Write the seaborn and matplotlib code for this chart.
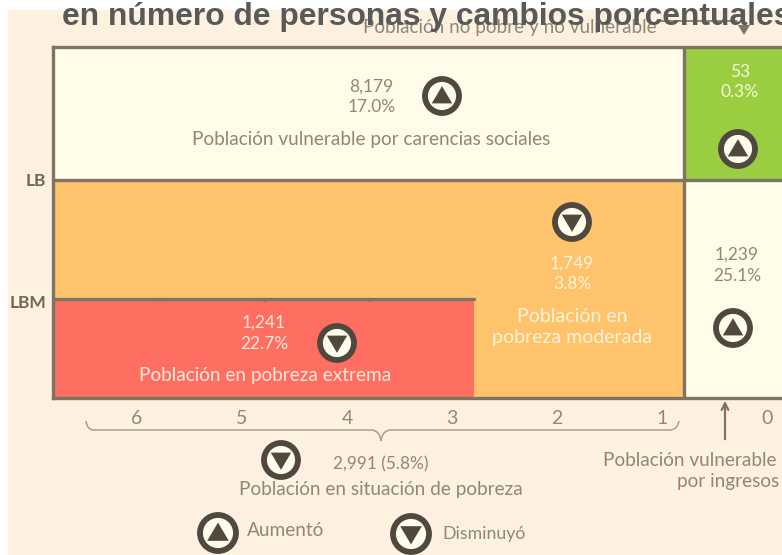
import matplotlib
matplotlib.use("Agg")
import matplotlib.pyplot as plt
from matplotlib.patches import Ellipse, Polygon, PathPatch
from matplotlib.path import Path
from matplotlib.transforms import IdentityTransform
import seaborn as sns

W, H = 782, 555
BG = "#FEF1E0"; CREAM = "#FFFDE9"; EDGE = "#7D7464"; DARK = "#4E483F"; TXT = "#8F8878"
ORANGE = "#FEC36B"; RED = "#FF6F61"; GREEN = "#9ACD3F"

# regions: carencias from/to and income levels from/to
region_names = ["vuln_car", "no_pobre", "moderada", "extrema", "vuln_ing"]
region_c_left = [6.8, 0.79, 6.8, 6.8, 0.79]
region_c_right = [0.79, -0.143, 0.79, 2.79, -0.143]
region_y_low = [218, 218, 0, 0, 0]
region_y_high = [351, 351, 218, 99, 218]
region_colors = [CREAM, GREEN, ORANGE, RED, CREAM]
carencias = [6, 5, 4, 3, 2, 1, 0]
lb_levels = [96, 218]
lb_labels = ["LBM", "LB"]
lbm_marks = [5.78, 4.78, 3.78]

sns.set_theme(style="white", font="Lato")
plt.rcParams["font.family"] = ["Lato", "DejaVu Sans"]
fig = plt.figure(figsize=(W / 100, H / 100), dpi=100, facecolor="white")
fig.add_artist(plt.Rectangle((8 / W, 0), 1, 1 - 10 / H, transform=fig.transFigure, color=BG, zorder=-5))
ax = fig.add_axes([53 / W, 1 - 398 / H, (W - 53) / W, 351 / H])
ax.patch.set_alpha(0)

for l, r, lo, hi, c in zip(region_c_left, region_c_right, region_y_low, region_y_high, region_colors):
    ax.bar((l + r) / 2, hi - lo, width=l - r, bottom=lo, color=c, edgecolor="none", zorder=1)
LW = 2.4
sns.lineplot(x=[6.8, -0.143], y=[218, 218], color=EDGE, lw=LW, ax=ax, zorder=3)
sns.lineplot(x=[6.8, 2.79], y=[99, 99], color=EDGE, lw=LW, ax=ax, zorder=3)
ax.plot([0.79, 0.79], [0, 351], color=EDGE, lw=LW, zorder=3)
ax.vlines(lbm_marks, 96, 99, color=EDGE, lw=1.5, zorder=3)
ax.set_xlim(6.8, -0.143); ax.set_ylim(0, 351)
ax.set_xticks(carencias); ax.set_xticklabels(carencias, fontsize=14, color=TXT)
ax.set_yticks(lb_levels); ax.set_yticklabels(lb_labels, fontsize=12.5, fontweight="bold", color="#6E675A")
ax.tick_params(axis="x", length=0, pad=9)
ax.tick_params(axis="y", length=0, pad=5)
for s in ["left", "bottom", "top"]:
    ax.spines[s].set_color(EDGE); ax.spines[s].set_linewidth(LW)
ax.spines["right"].set_visible(False)

def T(x, y, s, size=12.5, color=TXT, ha="center", **k):
    k.setdefault("fontweight", "normal")
    fig.text(x / W, 1 - y / H, s, fontsize=size, color=color, ha=ha, va="center", **k)

def icon(x, y, rx, ry, up=True):
    tr = IdentityTransform()
    Y = H - y
    fig.add_artist(Ellipse((x, Y), 2 * rx, 2 * ry, fc=CREAM, ec=DARK, lw=4.2, transform=tr, zorder=6))
    a, b = rx * 0.6, ry * 0.58
    d = 1 if up else -1
    fig.add_artist(Polygon([(x - a, Y - d * b * 0.75), (x + a, Y - d * b * 0.75), (x, Y + d * b)],
                           fc=DARK, ec="none", transform=tr, zorder=7))

# title & top label
T(510, 27, "Población no pobre y no vulnerable", size=13.6, zorder=5)
tr = IdentityTransform()
fig.add_artist(plt.Line2D([660, 737], [H - 21, H - 21], color=EDGE, lw=1.2, transform=tr, zorder=7))
fig.add_artist(plt.Line2D([744, 744], [H - 10, H - 28], color=EDGE, lw=1.5, transform=tr, zorder=7))
fig.add_artist(Polygon([(738, H - 25), (750, H - 25), (744, H - 35)], fc=EDGE, ec="none", transform=tr, zorder=7))
T(62, 17, "en número de personas y cambios porcentuales", size=22.9, color="#58595B", ha="left",
  family=["Liberation Sans"], fontweight="bold", zorder=8)

# cell labels
BODY = 13.7
T(371, 87, "8,179"); T(372, 107, "17.0%")
T(371, 139, "Población vulnerable por carencias sociales", size=BODY)
T(740, 72, "53", color="#F4F7DE"); T(740, 92, "0.3%", color="#F4F7DE")
T(737, 255, "1,239"); T(737, 276, "25.1%")
T(572, 264, "1,749", color="#FFF3DC"); T(572, 284, "3.8%", color="#FFF3DC")
T(572, 316, "Población en", size=14, color="#FFF3DC"); T(572, 337, "pobreza moderada", size=14, color="#FFF3DC")
T(264, 323, "1,241", color="#FFE9DC"); T(264, 344, "22.7%", color="#FFE9DC")
T(265, 375, "Población en pobreza extrema", size=BODY, color="#FFE9DC")

# icons
icon(442, 96, 17, 17, True); icon(738, 149, 17, 17, True)
icon(733, 328, 17, 17, True); icon(572, 222, 17, 17, False)
icon(337, 343, 17, 17, False); icon(281, 460, 17, 17, False)
icon(218, 533, 18, 18, True); icon(411, 534, 18, 18, False)

# brace
pts = [(86, 421), (87, 430), (94, 430), (372, 430), (380, 431), (381, 441), (382, 431), (390, 430),
       (670, 430), (677, 430), (679, 421)]
codes = [Path.MOVETO, Path.CURVE3, Path.CURVE3, Path.LINETO, Path.CURVE3, Path.CURVE3, Path.CURVE3, Path.CURVE3,
         Path.LINETO, Path.CURVE3, Path.CURVE3]
fig.add_artist(PathPatch(Path([(x, H - y) for x, y in pts], codes), fc="none", ec="#A79F8F", lw=1.1, transform=tr))
ax.annotate("", xy=(725, H - 398), xycoords=tr, xytext=(725, H - 442), textcoords=tr,
            arrowprops=dict(arrowstyle="->", color=EDGE, lw=1.6), annotation_clip=False)

T(381, 464, "2,991 (5.8%)", size=12.4)
T(381, 490, "Población en situación de pobreza", size=BODY)
T(690, 460, "Población vulnerable", size=BODY)
T(779, 482, "por ingresos", size=BODY, ha="right")
T(247, 531, "Aumentó", ha="left", size=BODY)
T(442, 534, "Disminuyó", ha="left", size=12.7)

fig.savefig("out.png", dpi=100)
